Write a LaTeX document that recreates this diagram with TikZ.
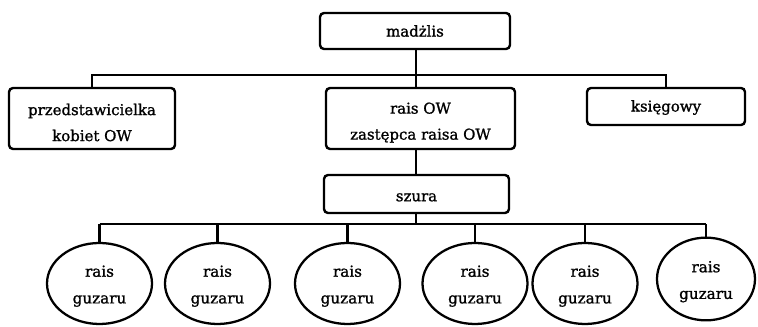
\documentclass[tikz,border=0pt]{standalone}
\usepackage{fontspec}
\setmainfont[FakeBold=1.2]{DejaVu Serif}
\usetikzlibrary{shapes.geometric}
\newcommand{\topstrut}[1]{\rule{0pt}{#1}}
\begin{document}
\begin{tikzpicture}[x=0.75pt,y=-0.75pt,
  boxnode/.style={draw=black, line width=1.8pt, rounded corners=3pt, inner sep=0pt,
     align=center, font=\fontsize{11.2}{19.5}\selectfont},
  ovalnode/.style={draw=black, line width=1.7pt, ellipse, inner sep=0pt,
     minimum width=78.75pt, minimum height=60.75pt},
  ovaltext/.style={align=center, font=\fontsize{11.4}{20}\selectfont, yshift=-2pt},
  conn/.style={line width=1.6pt},
  thinconn/.style={line width=0.9pt}]
\useasboundingbox (0,0) rectangle (758,327);
\node[boxnode, minimum width=142.5pt, minimum height=27pt] (mad) at (415,31) {madżlis};
\node[boxnode, minimum width=124.5pt, minimum height=45.75pt] (prz) at (92,118.5) {\topstrut{14.5pt}przedstawicielka\\kobiet OW};
\node[boxnode, minimum width=141.75pt, minimum height=45.75pt] (mid) at (420.5,118.5) {\topstrut{14.5pt}rais OW\\zastępca raisa OW};
\node[boxnode, minimum width=118.5pt, minimum height=27.75pt] (ks) at (666,106.5) {\topstrut{10pt}księgowy};
\node[boxnode, minimum width=138.75pt, minimum height=28.5pt] (szu) at (416.5,194) {\topstrut{11pt}szura};
\node[ovalnode, label={[ovaltext]center:{rais\\guzaru}}] (e1) at (99.5,283.5) {};
\node[ovalnode, label={[ovaltext]center:{rais\\guzaru}}] (e2) at (217.5,283.5) {};
\node[ovalnode, label={[ovaltext]center:{rais\\guzaru}}] (e3) at (347.5,283.5) {};
\node[ovalnode, label={[ovaltext]center:{rais\\guzaru}}] (e4) at (475,283.5) {};
\node[ovalnode, label={[ovaltext]center:{rais\\guzaru}}] (e5) at (585,283.5) {};
\node[ovalnode, minimum width=73.5pt, minimum height=62pt, label={[ovaltext]center:{rais\\guzaru}}] (e6) at (706,279) {};
\coordinate (bus) at (416,75);
\coordinate (bot) at (416,224);
% top bus
\draw[conn] (mad.south -| bus) -- (mid.north -| bus);
\draw[conn] (prz.north) -- (prz.north |- bus) -- (ks.north |- bus) -- (ks.north);
\draw[conn] (mid.south -| bus) -- (szu.north -| bus);
\draw[conn] (szu.south -| bot) -- (bot);
% bottom bus
\draw[thinconn] (e1.north |- bot) -- (e6.north |- bot);
\foreach \e in {e1,e2,e3,e5}{\draw[conn] (\e.north) -- (\e.north |- bot);}
\foreach \e in {e4,e6}{\draw[thinconn] (\e.north) -- (\e.north |- bot);}
\end{tikzpicture}
\end{document}
